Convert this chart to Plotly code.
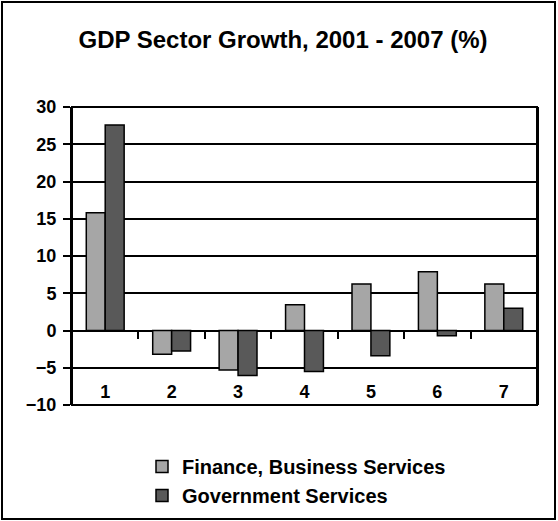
import plotly.graph_objects as go

categories = ["1", "2", "3", "4", "5", "6", "7"]
finance = [15.8, -3.2, -5.3, 3.45, 6.25, 7.9, 6.25]
government = [27.6, -2.75, -6.05, -5.5, -3.4, -0.7, 3.0]
y_ticks = [-10, -5, 0, 5, 10, 15, 20, 25, 30]

W, H = 558, 521
L, R, T, B = 72, 21, 107, 116
PW, PH = W - L - R, H - T - B
FONT = "Liberation Sans, Arial, sans-serif"


def bold(size):
    return dict(size=size, family=FONT, color="black", weight="bold")


fig = go.Figure()
fig.add_trace(go.Bar(x=categories, y=finance, name="Finance, Business Services",
                     marker=dict(color="#a6a6a6", line=dict(color="black", width=1.5))))
fig.add_trace(go.Bar(x=categories, y=government, name="Government Services",
                     marker=dict(color="#595959", line=dict(color="black", width=1.5))))

ymin, ymax = y_ticks[0], y_ticks[-1]
zero_pos = (0 - ymin) / (ymax - ymin)

fig.update_layout(
    width=W, height=H,
    margin=dict(l=L, r=R, t=T, b=B, autoexpand=False),
    paper_bgcolor="white", plot_bgcolor="white",
    font=bold(18),
    title=dict(text="GDP Sector Growth, 2001 - 2007 (%)", x=283 / W, xref="container",
               xanchor="center", y=1 - 40 / H, yref="container", yanchor="middle",
               font=bold(24)),
    barmode="group", bargap=0.43, bargroupgap=0,
    showlegend=True,
    legend=dict(x=(142 - L) / PW, y=(T + PH - 447) / PH,
                xanchor="left", yanchor="top", orientation="v",
                font=bold(20), itemwidth=30, tracegroupgap=0, traceorder="normal",
                bgcolor="rgba(0,0,0,0)"),
    xaxis=dict(type="category", anchor="free", position=zero_pos, automargin=False,
               showline=False, showgrid=False, zeroline=False,
               ticks="outside", tickson="boundaries", ticklen=7, tickwidth=2, tickcolor="black",
               ticklabelstandoff=48, tickangle=0,
               tickfont=bold(18)),
    yaxis=dict(range=[ymin, ymax], tickvals=y_ticks, automargin=False,
               showline=True, linecolor="black", linewidth=2, mirror=True,
               ticks="outside", ticklen=7, tickwidth=2, tickcolor="black",
               showgrid=True, gridcolor="black", gridwidth=1.5,
               zeroline=True, zerolinecolor="black", zerolinewidth=2,
               tickfont=bold(18), ticklabelstandoff=3),
    shapes=[
        dict(type="rect", xref="x domain", yref="y domain", x0=0, x1=1, y0=0, y1=1,
             line=dict(color="black", width=2), fillcolor="rgba(0,0,0,0)", layer="above"),
        dict(type="rect", xref="paper", yref="paper", xsizemode="pixel", ysizemode="pixel",
             xanchor=0, yanchor=0, x0=-(L - 2), x1=W - L - 3, y0=-(B - 2), y1=H - B - 2,
             line=dict(color="black", width=2), fillcolor="rgba(0,0,0,0)"),
    ],
)

fig.write_html("out.html", config={"displayModeBar": False},
               post_script="document.body.style.margin='0';")
